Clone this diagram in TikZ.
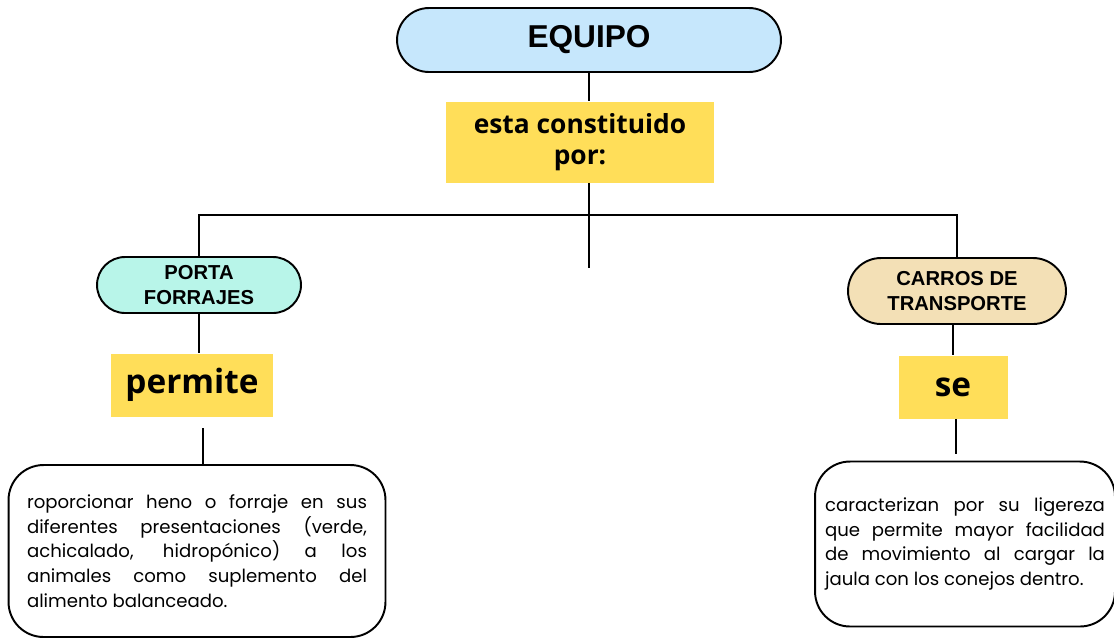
\documentclass[tikz,border=0pt]{standalone}
\usepackage{fontspec}
\setmainfont{Poppins}
\newfontfamily\capsfont{Liberation Sans}
\newfontfamily\wordfont{Open Sans}
\usetikzlibrary{positioning}
\definecolor{cieloazul}{HTML}{C6E7FC}
\definecolor{menta}{HTML}{B8F5E9}
\definecolor{trigo}{HTML}{F3E0B6}
\definecolor{amarillo}{HTML}{FFDE59}
\tikzstyle{titulo} = [rectangle, draw, line width=1.1pt, align=center, inner sep=0pt]
\tikzstyle{enlace} = [rectangle, fill=amarillo, align=center, inner sep=0pt]
\tikzstyle{texto} = [rectangle, draw, line width=1.1pt, rounded corners=0.7cm, inner sep=0pt]
\tikzstyle{linea} = [line width=1.1pt]

\begin{document}
\begin{tikzpicture}[x=0.02cm,y=-0.02cm]
        \useasboundingbox (0,0) rectangle (1114,637);
        \node [titulo, fill=cieloazul, minimum width=7.68cm, minimum height=1.28cm, rounded corners=0.64cm, font=\capsfont\bfseries\fontsize{18}{20}\selectfont] at (589,40) (equipo) {EQUIPO};
        \node [enlace, minimum width=5.36cm, minimum height=1.62cm, font=\wordfont\bfseries\fontsize{15}{18}\selectfont] at (580,142) (esta) {esta constituido\\por:};
        \node [titulo, fill=menta, minimum width=4.08cm, minimum height=1.12cm, rounded corners=0.56cm, font=\capsfont\bfseries\fontsize{11.5}{14}\selectfont] at (199,285) (porta) {PORTA\\FORRAJES};
        \node [titulo, fill=trigo, minimum width=4.36cm, minimum height=1.32cm, rounded corners=0.66cm, font=\capsfont\bfseries\fontsize{11.5}{14}\selectfont] at (957,291) (carros) {CARROS DE\\TRANSPORTE};
        \node [enlace, minimum width=3.24cm, minimum height=1.26cm, font=\wordfont\bfseries\fontsize{19}{22}\selectfont] at (192,385) (permite) {permite};
        \node [enlace, minimum width=2.18cm, minimum height=1.26cm, font=\wordfont\bfseries\fontsize{19}{22}\selectfont] at (953,387) (se) {se};
        \node [texto, minimum width=7.54cm, minimum height=3.44cm] at (197,551) (forraje) {\parbox{6.8cm}{\fontsize{10.3}{14}\selectfont roporcionar heno o forraje en sus\linebreak diferentes presentaciones (verde,\linebreak achicalado, hidropónico) a los\linebreak animales como suplemento del\linebreak alimento balanceado.}};
        \node [texto, minimum width=6.0cm, minimum height=3.3cm] at (965,544) (ligereza) {\parbox{5.6cm}{\fontsize{10.3}{14}\selectfont caracterizan por su ligereza\linebreak que permite mayor facilidad\linebreak de movimiento al cargar la\linebreak jaula con los conejos dentro.}};
        \coordinate (ramal) at (957,215);
        \coordinate (centro) at (589,268);
        \coordinate (bajopermite) at (203,428);
        \coordinate (bajose) at (956,454);
        \draw [linea] (equipo.south) -- (equipo.south |- esta.north);
        \draw [linea] (esta.south -| centro) -- (centro);
        \draw [linea] (porta.north) |- (ramal) -- (carros.north);
        \draw [linea] (porta.south) -- (porta.south |- permite.north);
        \draw [linea] (carros.south -| se.north) -- (se.north);
        \draw [linea] (bajopermite) -- (bajopermite |- forraje.north);
        \draw [linea] (se.south -| bajose) -- (bajose);
\end{tikzpicture}
\end{document}
